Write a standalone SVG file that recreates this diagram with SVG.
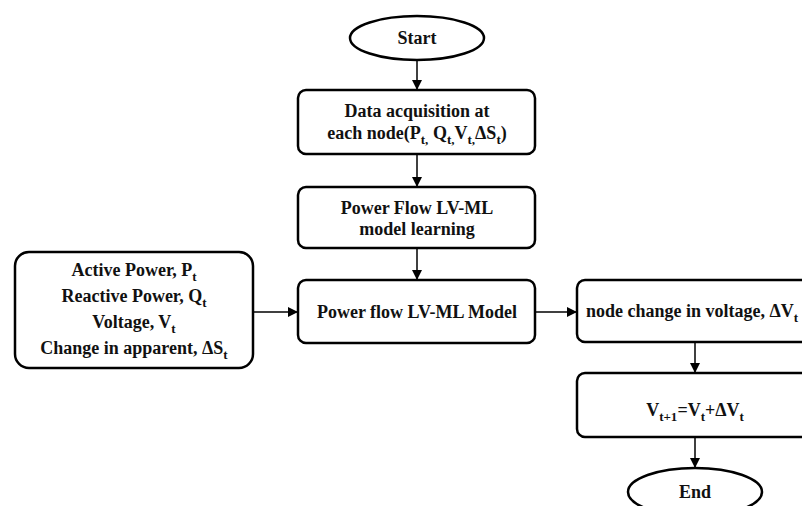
<svg xmlns="http://www.w3.org/2000/svg" width="802" height="506" viewBox="0 0 802 506">
<defs>
<marker id="ah" markerWidth="10" markerHeight="10" refX="9" refY="5" orient="auto" markerUnits="userSpaceOnUse" viewBox="0 0 10 10">
<path d="M0,0 L10,5 L0,10 z" fill="#000"/>
</marker>
<style>
.box{fill:#fff;stroke:#000;stroke-width:2.5}
.t{font-family:"Liberation Serif","Times New Roman",serif;font-weight:bold;font-size:18px;fill:#111;text-anchor:middle}
.s{font-size:13px}
.c{stroke:#000;stroke-width:1.5;fill:none;marker-end:url(#ah)}
</style>
</defs>
<rect width="802" height="506" fill="#fff"/>
<g id="connectors">
<path class="c" d="M417,61 L417,89"/>
<path class="c" d="M417,155 L417,186"/>
<path class="c" d="M417,249 L417,279"/>
<path class="c" d="M254,312 L297,312"/>
<path class="c" d="M536,312 L576,312"/>
<path class="c" d="M695,343 L695,372"/>
<path class="c" d="M695,438 L695,467"/>
</g>
<g id="start">
<ellipse class="box" cx="417" cy="38" rx="67" ry="22"/>
<text class="t" x="417" y="44">Start</text>
</g>
<g id="data">
<rect class="box" x="298" y="90" width="237" height="64" rx="8"/>
<text class="t" x="417" y="117">Data acquisition at</text>
<text class="t" x="417" y="139">each node(P<tspan class="s" dy="5">t,</tspan><tspan dy="-5"> Q</tspan><tspan class="s" dy="5">t,</tspan><tspan dy="-5">V</tspan><tspan class="s" dy="5">t,</tspan><tspan dy="-5">ΔS</tspan><tspan class="s" dy="5">t</tspan><tspan dy="-5">)</tspan></text>
</g>
<g id="learning">
<rect class="box" x="298" y="187" width="237" height="61" rx="8"/>
<text class="t" x="417" y="214">Power Flow LV-ML</text>
<text class="t" x="417" y="235">model learning</text>
</g>
<g id="inputs">
<rect class="box" x="15" y="252" width="238" height="116" rx="14"/>
<text class="t" x="134" y="276">Active Power, P<tspan class="s" dy="5">t</tspan></text>
<text class="t" x="134" y="302">Reactive Power, Q<tspan class="s" dy="5">t</tspan></text>
<text class="t" x="134" y="328">Voltage, V<tspan class="s" dy="5">t</tspan></text>
<text class="t" x="134" y="354">Change in apparent, ΔS<tspan class="s" dy="5">t</tspan></text>
</g>
<g id="model">
<rect class="box" x="298" y="280" width="237" height="63" rx="8"/>
<text class="t" x="417" y="318">Power flow LV-ML Model</text>
</g>
<g id="deltaV">
<rect class="box" x="577" y="280" width="260" height="62" rx="8"/>
<text class="t" x="586" y="317" style="text-anchor:start">node change in voltage, ΔV<tspan class="s" dy="5">t</tspan></text>
</g>
<g id="update">
<rect class="box" x="577" y="373" width="260" height="64" rx="8"/>
<text class="t" x="695" y="416">V<tspan class="s" dy="5">t+1</tspan><tspan dy="-5">=V</tspan><tspan class="s" dy="5">t</tspan><tspan dy="-5">+ΔV</tspan><tspan class="s" dy="5">t</tspan></text>
</g>
<g id="end">
<ellipse class="box" cx="695" cy="492" rx="67" ry="24"/>
<text class="t" x="695" y="498">End</text>
</g>
</svg>
